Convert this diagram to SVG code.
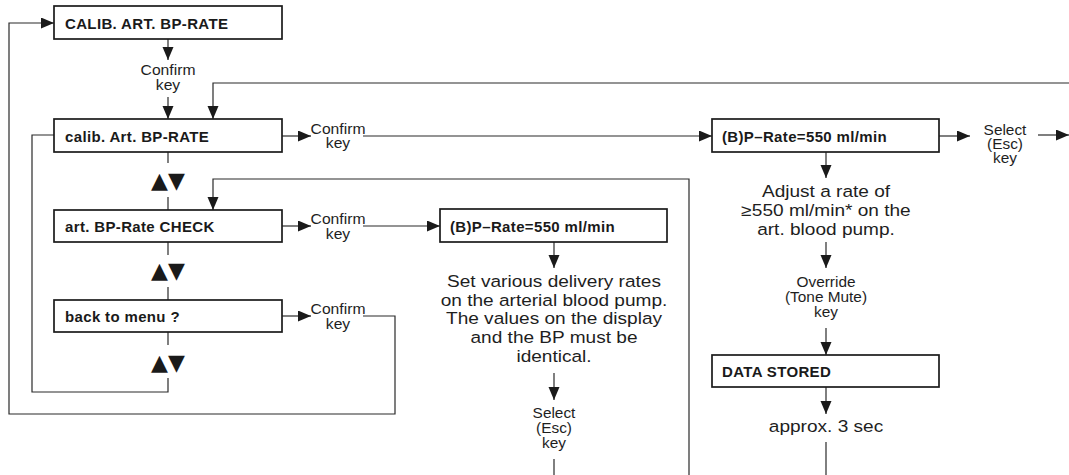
<svg xmlns="http://www.w3.org/2000/svg" width="1069" height="475" viewBox="0 0 1069 475">
<defs>
<marker id="ah" markerUnits="userSpaceOnUse" markerWidth="14" markerHeight="12" refX="13" refY="5.5" orient="auto">
<path d="M0,0 L13,5.5 L0,11 z" fill="#1a1a1a"/>
</marker>
<style>
.bx{fill:#fff;stroke:#1a1a1a;stroke-width:1.7}
.ln{fill:none;stroke:#2a2a2a;stroke-width:1.2}
.ar{fill:none;stroke:#2a2a2a;stroke-width:1.2;marker-end:url(#ah)}
.lb{font-family:"Liberation Sans",Arial,sans-serif;font-weight:bold;font-size:15px;letter-spacing:0.35px;fill:#1a1a1a}
.sm{font-family:"Liberation Sans",Arial,sans-serif;font-size:14px;fill:#1e1e1e;text-anchor:middle}
.bg{font-family:"Liberation Sans",Arial,sans-serif;font-size:16.3px;fill:#1e1e1e;text-anchor:middle}
.ud{font-family:"DejaVu Sans",sans-serif;font-size:22px;fill:#1a1a1a;text-anchor:middle}
</style>
</defs>
<rect width="1069" height="475" fill="#fff"/>

<g id="connectors">
<line class="ar" x1="168" y1="39" x2="168" y2="60"/>
<line class="ar" x1="168" y1="97" x2="168" y2="119"/>
<polyline class="ar" points="1069,83 213,83 213,119"/>
<line class="ar" x1="282" y1="136" x2="311" y2="136"/>
<line class="ar" x1="363" y1="136" x2="712" y2="136"/>
<line class="ln" x1="168" y1="152" x2="168" y2="163"/>
<line class="ln" x1="168" y1="197" x2="168" y2="210"/>
<line class="ln" x1="168" y1="242" x2="168" y2="255"/>
<line class="ln" x1="168" y1="287" x2="168" y2="300"/>
<line class="ln" x1="168" y1="332" x2="168" y2="345"/>
<polyline class="ln" points="168,378 168,392 32,392 32,135 54,135"/>
<line class="ar" x1="282" y1="226" x2="311" y2="226"/>
<line class="ar" x1="363" y1="226" x2="440" y2="226"/>
<polyline class="ar" points="689,475 689,179 213,179 213,210"/>
<line class="ar" x1="282" y1="316" x2="311" y2="316"/>
<polyline class="ar" points="363,316 395,316 395,414 9,414 9,23 54,23"/>
<line class="ar" x1="554" y1="242" x2="554" y2="268"/>
<line class="ar" x1="554" y1="373" x2="554" y2="400"/>
<line class="ln" x1="554" y1="459" x2="554" y2="475"/>
<line class="ar" x1="939" y1="136" x2="970" y2="136"/>
<line class="ar" x1="1038" y1="135" x2="1069" y2="135"/>
<line class="ar" x1="826" y1="152" x2="826" y2="178"/>
<line class="ar" x1="826" y1="242" x2="826" y2="268"/>
<line class="ar" x1="826" y1="328" x2="826" y2="355"/>
<line class="ar" x1="826" y1="387" x2="826" y2="414"/>
<line class="ln" x1="826" y1="442" x2="826" y2="475"/>
</g>

<g id="n1">
<rect class="bx" x="54" y="6" width="228" height="33"/>
<text class="lb" x="65" y="29">CALIB. ART. BP-RATE</text>
</g>
<g id="l1" transform="translate(168,0) scale(1.12,1)">
<text class="sm" x="0" y="75">Confirm</text>
<text class="sm" x="0" y="90">key</text>
</g>

<g id="n2">
<rect class="bx" x="54" y="119" width="228" height="33"/>
<text class="lb" x="65" y="142">calib. Art. BP-RATE</text>
</g>
<g id="l2" transform="translate(338,0) scale(1.12,1)">
<text class="sm" x="0" y="134">Confirm</text>
<text class="sm" x="0" y="148">key</text>
</g>
<text id="ud1" class="ud" x="168" y="188">▲▼</text>

<g id="n3">
<rect class="bx" x="54" y="210" width="228" height="32"/>
<text class="lb" x="65" y="232">art. BP-Rate CHECK</text>
</g>
<g id="l3" transform="translate(338,0) scale(1.12,1)">
<text class="sm" x="0" y="224">Confirm</text>
<text class="sm" x="0" y="239">key</text>
</g>
<text id="ud2" class="ud" x="168" y="278">▲▼</text>

<g id="n4">
<rect class="bx" x="54" y="300" width="228" height="32"/>
<text class="lb" x="65" y="322">back to menu ?</text>
</g>
<g id="l4" transform="translate(338,0) scale(1.12,1)">
<text class="sm" x="0" y="314">Confirm</text>
<text class="sm" x="0" y="329">key</text>
</g>
<text id="ud3" class="ud" x="168" y="370">▲▼</text>

<g id="n6">
<rect class="bx" x="440" y="209" width="227" height="33"/>
<text class="lb" x="450" y="232">(B)P–Rate=550 ml/min</text>
</g>
<g id="t6" transform="translate(554,0) scale(1.17,1)">
<text class="bg" x="0" y="287">Set various delivery rates</text>
<text class="bg" x="0" y="306">on the arterial blood pump.</text>
<text class="bg" x="0" y="324">The values on the display</text>
<text class="bg" x="0" y="343">and the BP must be</text>
<text class="bg" x="0" y="362">identical.</text>
</g>
<g id="l6" transform="translate(554,0) scale(1.1,1)">
<text class="sm" x="0" y="418">Select</text>
<text class="sm" x="0" y="433">(Esc)</text>
<text class="sm" x="0" y="448">key</text>
</g>

<g id="n5">
<rect class="bx" x="712" y="119" width="227" height="33"/>
<text class="lb" x="722" y="142">(B)P–Rate=550 ml/min</text>
</g>
<g id="l5" transform="translate(1005,0) scale(1.1,1)">
<text class="sm" x="0" y="135">Select</text>
<text class="sm" x="0" y="149">(Esc)</text>
<text class="sm" x="0" y="163">key</text>
</g>
<g id="t5" transform="translate(826,0) scale(1.17,1)">
<text class="bg" x="0" y="197">Adjust a rate of</text>
<text class="bg" x="0" y="216">≥550 ml/min* on the</text>
<text class="bg" x="0" y="235">art. blood pump.</text>
</g>
<g id="l7" transform="translate(826,0) scale(1.1,1)">
<text class="sm" x="0" y="287">Override</text>
<text class="sm" x="0" y="302">(Tone Mute)</text>
<text class="sm" x="0" y="317">key</text>
</g>

<g id="n7">
<rect class="bx" x="712" y="355" width="227" height="32"/>
<text class="lb" x="722" y="377">DATA STORED</text>
</g>
<g id="t7" transform="translate(826,0) scale(1.17,1)">
<text class="bg" x="0" y="432">approx. 3 sec</text>
</g>
</svg>
